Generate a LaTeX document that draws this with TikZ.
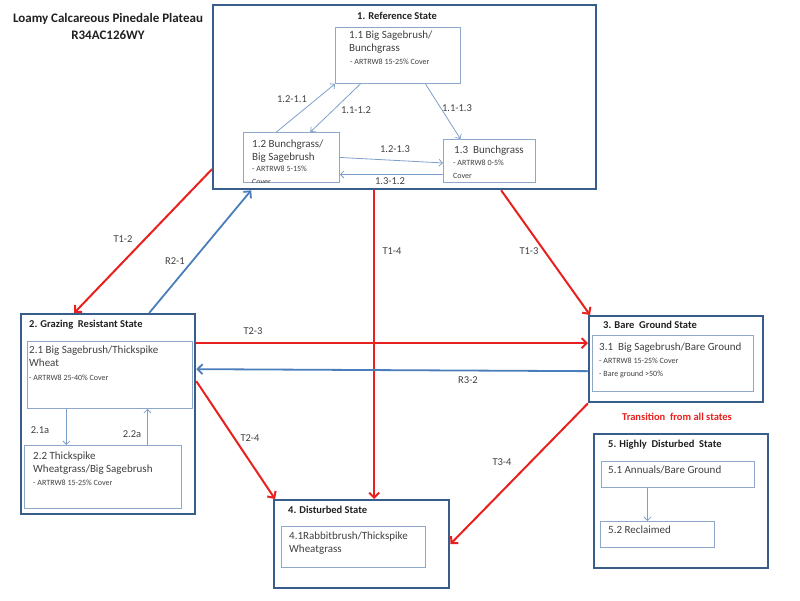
\documentclass[tikz,border=0pt]{standalone}
\usepackage{fontspec}
\setmainfont{Carlito}
\usetikzlibrary{arrows.meta}
\definecolor{stateline}{HTML}{385D8A}
\definecolor{phaseline}{HTML}{8EA8CB}
\definecolor{pathline}{HTML}{7F9FCB}
\definecolor{restline}{HTML}{4A7EBB}
\definecolor{transline}{HTML}{E8201E}
\definecolor{ink}{HTML}{202020}
\definecolor{graytext}{HTML}{3F3F3F}
\begin{document}
\begin{tikzpicture}[x=1pt,y=-1pt,
    state/.style={draw=stateline,line width=2.3pt,anchor=north west,inner sep=0pt},
    phase/.style={draw=phaseline,line width=0.9pt,anchor=north west,inner sep=0pt},
    head/.style={font=\bfseries\fontsize{10.5}{12}\selectfont,text=ink,anchor=north west,inner sep=0pt},
    body/.style={font=\fontsize{11}{13}\selectfont,text=graytext,align=left,anchor=north west,inner sep=0pt},
    note/.style={font=\fontsize{8}{13}\selectfont,text=graytext,align=left,anchor=north west,inner sep=0pt},
    lbl/.style={font=\fontsize{10.5}{12}\selectfont,text=graytext,inner sep=0pt},
    trans/.style={draw=transline,line width=2pt,-{Straight Barb[length=5pt,width=10pt]}},
    rest/.style={draw=restline,line width=1.8pt,-{Straight Barb[length=5pt,width=10pt]}},
    phasearrow/.style={draw=pathline,line width=0.8pt,-{Straight Barb[length=3.5pt,width=7pt]}}]
  \useasboundingbox (0,0) rectangle (800,600);

  \node[font=\bfseries\fontsize{13}{17}\selectfont,text=ink,align=center,anchor=north,inner sep=0pt]
    (title) at (108,13) {Loamy Calcareous Pinedale Plateau\\R34AC126WY};

  \node[state,minimum width=383,minimum height=184] (s1) at (212,4) {};
  \node[phase,minimum width=125,minimum height=56] (s11) at (335,27) {};
  \node[phase,minimum width=96,minimum height=50] (s12) at (243,132) {};
  \node[phase,minimum width=92,minimum height=43] (s13) at (443,139) {};
  \node[state,minimum width=174,minimum height=200] (s2) at (20,313) {};
  \node[phase,minimum width=165,minimum height=67] (s21) at (27,341) {};
  \node[phase,minimum width=157,minimum height=63] (s22) at (24,445) {};
  \node[state,minimum width=174,minimum height=86] (s3) at (588,315) {};
  \node[phase,minimum width=161,minimum height=56] (s31) at (592,335) {};
  \node[state,minimum width=175,minimum height=88] (s4) at (273,499) {};
  \node[phase,minimum width=144,minimum height=41] (s41) at (281,526) {};
  \node[state,minimum width=174,minimum height=134] (s5) at (593,433) {};
  \node[phase,minimum width=153,minimum height=26] (s51) at (601,461) {};
  \node[phase,minimum width=114,minimum height=26] (s52) at (600,521) {};

  \node[head,anchor=north] (h1) at (397,12) {1. Reference State};
  \node[body] (t11) at (349,31) {1.1 Big Sagebrush/\\Bunchgrass};
  \node[note] (n11) at (350,59) {- ARTRW8 15-25\% Cover};
  \node[body] (t12) at (252,140) {1.2 Bunchgrass/\\Big Sagebrush};
  \begin{scope}
    \clip (s12.north west) rectangle (s12.south east);
    \node[note] (n12) at (252,166) {- ARTRW8 5-15\%\\Cover};
  \end{scope}
  \node[body] (t13) at (454,146) {1.3\ \ Bunchgrass};
  \node[note] (n13) at (453,160) {- ARTRW8 0-5\%\\Cover};

  \node[head] (h2) at (29,320) {2. Grazing\ \ Resistant State};
  \node[body] (t21) at (29,346) {2.1 Big Sagebrush/Thickspike\\Wheat};
  \node[note] (n21) at (29,375) {- ARTRW8 25-40\% Cover};
  \node[body] (t22) at (33,452) {2.2 Thickspike\\Wheatgrass/Big Sagebrush};
  \node[note] (n22) at (33,480) {- ARTRW8 15-25\% Cover};

  \node[head] (h3) at (603,321) {3. Bare\ \ Ground State};
  \node[body] (t31) at (599,343) {3.1\ \ Big Sagebrush/Bare Ground};
  \node[note] (n31) at (599,358) {- ARTRW8 15-25\% Cover\\- Bare ground >50\%};
  \node[font=\bfseries\fontsize{10.5}{12}\selectfont,text=transline,inner sep=0pt]
    (all) at (677,417) {Transition\ \ from all states};

  \node[head] (h4) at (288,506) {4. Disturbed State};
  \node[body] (t41) at (289,532) {4.1Rabbitbrush/Thickspike\\Wheatgrass};

  \node[head] (h5) at (608,440) {5. Highly\ \ Disturbed\ \ State};
  \node[body] (t51) at (608,466) {5.1 Annuals/Bare Ground};
  \node[body] (t52) at (608,526) {5.2 Reclaimed};

  \begin{scope}
    \draw[phasearrow] ([xshift=-15]s12.north) to (s11.south west);
    \draw[phasearrow] ([xshift=-37.5]s11.south) to ([xshift=19]s12.north);
    \draw[phasearrow] ([xshift=27.5]s11.south) to ([xshift=-29]s13.north);
    \draw[phasearrow] (s12.east) to ([yshift=-2]s13.west);
    \draw[phasearrow] ([yshift=-13.5]s13.west) to ([yshift=-13.5]s13.west -| s12.east);
    \draw[phasearrow] ([xshift=-43.5]s21.south) to ([xshift=-43.5]s21.south |- s22.north);
    \draw[phasearrow] ([xshift=44.5]s22.north) to ([xshift=44.5]s22.north |- s21.south);
    \draw[phasearrow] ([xshift=-30.5]s51.south) to ([xshift=-30.5]s51.south |- s52.north);

    \draw[trans] ([yshift=-72]s1.west) to ([xshift=-34]s2.north);
    \draw[rest] ([xshift=41]s2.north) to ([xshift=-153.5]s1.south);
    \draw[trans] ([xshift=-30.5]s1.south) to ([xshift=-30.5]s1.south |- s4.north);
    \draw[trans] ([xshift=96.5]s1.south) to ([xshift=2]s3.north west);
    \draw[trans] ([yshift=71]s2.east) to ([yshift=71]s2.east -| s3.west);
    \draw[rest] ([yshift=-12]s3.west) to ([yshift=45]s2.east);
    \draw[trans] ([yshift=33]s2.east) to ([xshift=2]s4.north west);
    \draw[trans] (s3.south west) to (s4.east);
  \end{scope}

  \node[lbl] (l11) at (292,99) {1.2-1.1};
  \node[lbl] (l12) at (356,110) {1.1-1.2};
  \node[lbl] (l13) at (457,108) {1.1-1.3};
  \node[lbl] (l14) at (395,149) {1.2-1.3};
  \node[lbl] (l15) at (390,181) {1.3-1.2};
  \node[lbl] (l21) at (40,430) {2.1a};
  \node[lbl] (l22) at (132,434) {2.2a};
  \node[lbl] (lT12) at (123,239) {T1-2};
  \node[lbl] (lR21) at (175,261) {R2-1};
  \node[lbl] (lT14) at (392,251) {T1-4};
  \node[lbl] (lT13) at (529,251) {T1-3};
  \node[lbl] (lT23) at (253,331) {T2-3};
  \node[lbl] (lR32) at (468,380) {R3-2};
  \node[lbl] (lT24) at (250,438) {T2-4};
  \node[lbl] (lT34) at (502,462) {T3-4};
\end{tikzpicture}
\end{document}
